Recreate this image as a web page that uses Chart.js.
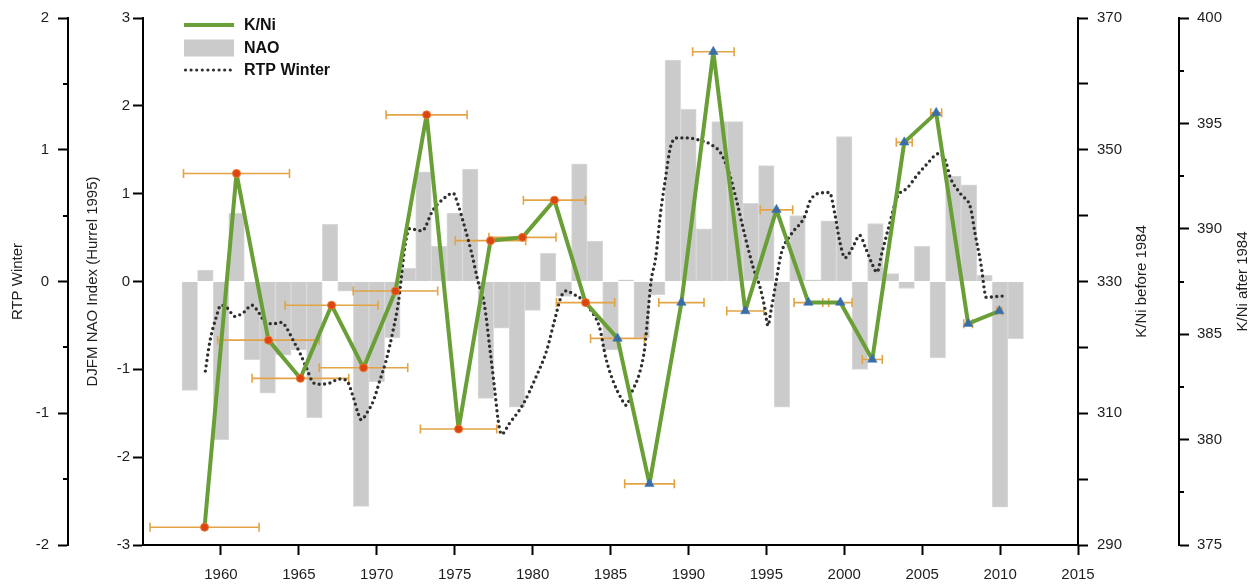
<!DOCTYPE html>
<html>
<head>
<meta charset="utf-8">
<script src="https://cdn.jsdelivr.net/npm/chart.js@4.4.1/dist/chart.umd.min.js"></script>
<style>
  html, body { margin: 0; padding: 0; background: #fff; }
  #wrap { width: 1259px; height: 585px; }
</style>
</head>
<body>
<div id="wrap"><canvas id="c" width="1259" height="585"></canvas></div>
<script>
// Winter NAO index (DJFM), one bar per year
const naoYears = [1958, 1959, 1960, 1961, 1962, 1963, 1964, 1965, 1966, 1967,
  1968, 1969, 1970, 1971, 1972, 1973, 1974, 1975, 1976, 1977,
  1978, 1979, 1980, 1981, 1982, 1983, 1984, 1985, 1986, 1987,
  1988, 1989, 1990, 1991, 1992, 1993, 1994, 1995, 1996, 1997,
  1998, 1999, 2000, 2001, 2002, 2003, 2004, 2005, 2006, 2007,
  2008, 2009, 2010, 2011];
const naoValues = [-1.24, 0.13, -1.80, 0.78, -0.89, -1.27, -0.84, -0.78, -1.55, 0.65,
  -0.11, -2.56, -1.14, -0.64, 0.15, 1.25, 0.40, 0.78, 1.28, -1.33,
  -0.53, -1.43, -0.33, 0.32, -0.17, 1.34, 0.46, -0.78, 0.02, -0.64,
  -0.15, 2.52, 1.96, 0.60, 1.82, 1.82, 0.89, 1.32, -1.43, 0.75,
  0.02, 0.69, 1.65, -1.00, 0.66, 0.09, -0.08, 0.40, -0.87, 1.20,
  1.10, 0.07, -2.57, -0.65];

// K/Ni ratio, samples dated before 1984 (left K/Ni scale) with age uncertainty (years)
const kniBeforeYears = [1958.95, 1961.0, 1963.05, 1965.1, 1967.1, 1969.15, 1971.2,
  1973.2, 1975.25, 1977.3, 1979.35, 1981.4, 1983.4];
const kniBeforeValues = [292.7, 346.4, 321.1, 315.3, 326.4, 316.9, 328.55,
  355.3, 307.6, 336.2, 336.7, 342.35, 326.8];
const kniBeforeErr = [3.5, 3.4, 3.26, 3.1, 2.98, 2.84, 2.71, 2.6, 2.45, 2.26, 2.15, 1.99, 1.87];

// K/Ni ratio, samples dated after 1984 (outer K/Ni scale)
const kniAfterYears = [1985.45, 1987.5, 1989.55, 1991.6, 1993.65, 1995.65, 1997.7,
  1999.75, 2001.8, 2003.85, 2005.9, 2007.95, 2009.95];
const kniAfterValues = [384.8, 377.9, 386.5, 398.4, 386.1, 390.9, 386.5,
  386.5, 383.8, 394.1, 395.5, 385.5, 386.1];
const kniAfterErr = [1.73, 1.59, 1.45, 1.33, 1.19, 1.04, 0.92, 0.75, 0.64, 0.51, 0.35, 0.28, 0.16];

// Smoothed winter RTP record
const rtpYears = [1959.0, 1959.3, 1959.7, 1960.0, 1960.4, 1960.9, 1961.45, 1962.0, 1962.45, 1962.95,
  1963.4, 1963.9, 1964.2, 1964.65, 1965.1, 1965.5, 1965.95, 1966.4, 1967.0, 1967.6,
  1968.05, 1968.5, 1968.8, 1969.0, 1969.35, 1969.8, 1970.2, 1970.6, 1971.05, 1971.4,
  1971.55, 1971.8, 1972.1, 1972.9, 1973.6, 1974.25, 1974.9, 1975.2, 1975.65, 1976.1,
  1976.5, 1976.9, 1977.25, 1977.55, 1977.8, 1978.0, 1978.5, 1979.4, 1980.2, 1980.9,
  1981.4, 1981.85, 1982.2, 1982.6, 1983.1, 1983.75, 1984.3, 1984.7, 1985.15, 1985.7,
  1986.0, 1986.4, 1986.85, 1987.2, 1987.4, 1987.6, 1987.9, 1988.2, 1988.5, 1988.85,
  1989.3, 1989.9, 1990.8, 1991.45, 1992.1, 1992.65, 1993.1, 1993.6, 1994.15, 1994.6,
  1994.9, 1995.1, 1995.3, 1995.6, 1995.95, 1996.6, 1997.45, 1997.8, 1998.4, 1999.05,
  1999.4, 1999.7, 2000.05, 2000.5, 2001.0, 2001.35, 2001.8, 2002.1, 2002.4, 2002.85,
  2003.4, 2004.05, 2004.7, 2005.3, 2006.05, 2006.5, 2006.8, 2007.5, 2008.1, 2008.4,
  2008.8, 2009.0, 2009.1, 2009.7, 2010.2];
const rtpValues = [-0.68, -0.45, -0.27, -0.18, -0.20, -0.265, -0.235, -0.18, -0.24, -0.32,
  -0.32, -0.31, -0.35, -0.45, -0.55, -0.66, -0.77, -0.78, -0.77, -0.74,
  -0.75, -0.88, -1.00, -1.05, -1.00, -0.90, -0.75, -0.60, -0.37, -0.15,
  0.0, 0.26, 0.40, 0.385, 0.54, 0.625, 0.67, 0.59, 0.41, 0.21,
  0.0, -0.17, -0.50, -0.80, -1.06, -1.16, -1.08, -0.93, -0.73, -0.525,
  -0.30, -0.11, -0.07, -0.095, -0.13, -0.22, -0.35, -0.58, -0.75, -0.89,
  -0.94, -0.83, -0.70, -0.50, -0.25, 0.0, 0.18, 0.51, 0.76, 1.02,
  1.09, 1.09, 1.07, 1.04, 0.97, 0.81, 0.61, 0.36, 0.11, -0.045,
  -0.20, -0.335, -0.22, -0.02, 0.21, 0.36, 0.49, 0.61, 0.67, 0.675,
  0.51, 0.31, 0.18, 0.25, 0.35, 0.26, 0.13, 0.07, 0.21, 0.41,
  0.64, 0.71, 0.81, 0.89, 0.97, 0.915, 0.79, 0.66, 0.56, 0.36,
  0.11, -0.07, -0.12, -0.115, -0.11];

// Unlabelled half-step ticks
const rtpMinorTicks = [1.5, 0.5, -0.5, -1.5];
const kniAfterMinorTicks = [397.5, 392.5, 387.5, 382.5, 377.5];

const FONT = "'Liberation Sans', Arial, Helvetica, sans-serif";
const TEXT = '#1e1e1e';
const GREEN = '#6a9f37';
const BAR = '#cbcbcb';
const DOT = '#2f2f2f';
const ERR = '#e2a444';

const pts = (xs, ys) => xs.map((x, i) => ({ x: x, y: ys[i] }));

// Horizontal age error bars with end caps
const errorBars = {
  id: 'errorBars',
  afterDatasetDraw(chart, args) {
    if (args.index !== 0) return;
    const ctx = chart.ctx, xs = chart.scales.x;
    const sets = [[2, kniBeforeYears, kniBeforeErr], [3, kniAfterYears, kniAfterErr]];
    ctx.save();
    ctx.strokeStyle = ERR;
    ctx.lineWidth = 1.6;
    sets.forEach(([di, yrs, errs]) => {
      const meta = chart.getDatasetMeta(di);
      meta.data.forEach((el, i) => {
        const x1 = xs.getPixelForValue(yrs[i] - errs[i]);
        const x2 = xs.getPixelForValue(yrs[i] + errs[i]);
        const y = el.y;
        ctx.beginPath();
        ctx.moveTo(x1, y); ctx.lineTo(x2, y);
        ctx.moveTo(x1, y - 4.5); ctx.lineTo(x1, y + 4.5);
        ctx.moveTo(x2, y - 4.5); ctx.lineTo(x2, y + 4.5);
        ctx.stroke();
      });
    });
    ctx.restore();
  }
};

// Joins the last pre-1984 sample to the first post-1984 sample
const kniBridge = {
  id: 'kniBridge',
  beforeDatasetDraw(chart, args) {
    if (args.index !== 2) return;
    const a = chart.getDatasetMeta(2).data;
    const b = chart.getDatasetMeta(3).data;
    if (!a.length || !b.length) return;
    const p = a[a.length - 1], q = b[0];
    const ctx = chart.ctx;
    ctx.save();
    ctx.strokeStyle = GREEN;
    ctx.lineWidth = 4;
    ctx.lineJoin = 'round';
    ctx.beginPath();
    ctx.moveTo(p.x, p.y); ctx.lineTo(q.x, q.y);
    ctx.stroke();
    ctx.restore();
  }
};

// Minor ticks, rotated axis titles and the in-plot legend
const decorations = {
  id: 'decorations',
  afterDraw(chart) {
    const ctx = chart.ctx, s = chart.scales, ca = chart.chartArea;
    ctx.save();
    ctx.strokeStyle = '#000';
    ctx.lineWidth = 2;
    ctx.beginPath();
    rtpMinorTicks.forEach(v => {
      const y = Math.round(s.yRTP.getPixelForValue(v));
      ctx.moveTo(s.yRTP.right - 5, y); ctx.lineTo(s.yRTP.right, y);
    });
    kniAfterMinorTicks.forEach(v => {
      const y = Math.round(s.yAfter.getPixelForValue(v));
      ctx.moveTo(s.yAfter.left, y); ctx.lineTo(s.yAfter.left + 5, y);
    });
    ctx.stroke();

    // axis titles, all reading bottom-to-top
    const midY = (ca.top + ca.bottom) / 2;
    const titles = [
      ['RTP Winter', s.yRTP.left + 18],
      ['DJFM NAO Index (Hurrel 1995)', s.yNAO.left + 24.5],
      ['K/Ni before 1984', s.yBefore.left + 63.5],
      ['K/Ni after 1984', s.yAfter.left + 64]
    ];
    ctx.fillStyle = TEXT;
    ctx.font = '15px ' + FONT;
    ctx.textAlign = 'center';
    ctx.textBaseline = 'middle';
    titles.forEach(([t, x]) => {
      ctx.save();
      ctx.translate(x, midY);
      ctx.rotate(-Math.PI / 2);
      ctx.fillText(t, 0, 0);
      ctx.restore();
    });

    // legend
    const lx = ca.left + 41, tx = ca.left + 101;
    const rows = [ca.top + 7, ca.top + 30, ca.top + 52];
    const ds = chart.data.datasets;
    ctx.strokeStyle = GREEN;
    ctx.lineWidth = 4;
    ctx.beginPath();
    ctx.moveTo(lx, rows[0]); ctx.lineTo(lx + 50, rows[0]);
    ctx.stroke();
    ctx.fillStyle = BAR;
    ctx.fillRect(lx, rows[1] - 8.5, 50, 17);
    ctx.strokeStyle = DOT;
    ctx.lineWidth = 3.2;
    ctx.lineCap = 'round';
    ctx.setLineDash([0, 5.6]);
    ctx.beginPath();
    ctx.moveTo(lx + 1.5, rows[2]); ctx.lineTo(lx + 49, rows[2]);
    ctx.stroke();
    ctx.setLineDash([]);
    ctx.fillStyle = '#111';
    ctx.font = 'bold 16px ' + FONT;
    ctx.textAlign = 'left';
    ctx.fillText(ds[2].label, tx, rows[0] + 1);
    ctx.fillText(ds[0].label, tx, rows[1] + 1);
    ctx.fillText(ds[1].label, tx, rows[2] + 1);
    ctx.restore();
  }
};

const tickFont = { family: FONT, size: 15 };
const axisBorder = { display: true, color: '#000', width: 2 };
const axisGrid = { drawOnChartArea: false, drawTicks: true, tickLength: 10, tickWidth: 2, tickColor: '#000' };

new Chart(document.getElementById('c'), {
  type: 'line',
  data: {
    datasets: [
      {
        type: 'bar', label: 'NAO', data: pts(naoYears, naoValues),
        xAxisID: 'x', yAxisID: 'yNAO',
        backgroundColor: BAR, borderColor: '#d9d9d9', borderWidth: 1,
        barPercentage: 1, categoryPercentage: 1, grouped: false, order: 10
      },
      {
        type: 'line', label: 'RTP Winter', data: pts(rtpYears, rtpValues),
        xAxisID: 'x', yAxisID: 'yRTP',
        borderColor: DOT, borderWidth: 3.4, borderDash: [0, 5.4], borderCapStyle: 'round',
        pointRadius: 0, fill: false, cubicInterpolationMode: 'monotone', order: 8
      },
      {
        type: 'line', label: 'K/Ni', data: pts(kniBeforeYears, kniBeforeValues),
        xAxisID: 'x', yAxisID: 'yBefore',
        borderColor: GREEN, borderWidth: 4, tension: 0, fill: false, borderJoinStyle: 'round',
        pointStyle: 'circle', pointRadius: 4, pointBackgroundColor: '#dc4512',
        pointBorderColor: '#e9792e', pointBorderWidth: 1, order: 3
      },
      {
        type: 'line', label: 'K/Ni', data: pts(kniAfterYears, kniAfterValues),
        xAxisID: 'x', yAxisID: 'yAfter',
        borderColor: GREEN, borderWidth: 4, tension: 0, fill: false, borderJoinStyle: 'round',
        pointStyle: 'triangle', pointRadius: 5.5, pointBackgroundColor: '#3a6ea9',
        pointBorderColor: '#3a6ea9', pointBorderWidth: 0.5, order: 2
      }
    ]
  },
  options: {
    responsive: false,
    animation: false,
    devicePixelRatio: 1,
    layout: { padding: { top: 17, left: 0, right: 0, bottom: 0 } },
    plugins: { legend: { display: false }, tooltip: { enabled: false } },
    scales: {
      x: {
        type: 'linear', position: 'bottom', min: 1955, max: 2015, offset: false,
        border: axisBorder,
        grid: Object.assign({}, axisGrid, {
          offset: false,
          tickColor: c => (c.tick && c.tick.value === 1955) ? 'rgba(0,0,0,0)' : '#000'
        }),
        ticks: {
          stepSize: 5, padding: 11, color: TEXT, font: tickFont, autoSkip: false, maxRotation: 0,
          callback: v => (v === 1955 ? '' : String(v))
        },
        afterFit: sc => { sc.height = 40; }
      },
      yNAO: {
        type: 'linear', position: 'left', weight: 0, min: -3, max: 3,
        border: axisBorder, grid: axisGrid,
        ticks: { stepSize: 1, padding: 3, color: TEXT, font: tickFont, callback: v => String(v) },
        afterFit: sc => { sc.width = 75; }
      },
      yRTP: {
        type: 'linear', position: 'left', weight: 1, min: -2, max: 2,
        border: axisBorder, grid: axisGrid,
        ticks: { stepSize: 1, padding: 9, color: TEXT, font: tickFont, callback: v => String(v) },
        afterFit: sc => { sc.width = 68; }
      },
      yBefore: {
        type: 'linear', position: 'right', weight: 0, min: 290, max: 370,
        border: axisBorder, grid: axisGrid,
        ticks: {
          stepSize: 10, padding: 9, color: TEXT, font: tickFont,
          callback: v => ((v - 290) % 20 === 0 ? String(v) : '')
        },
        afterFit: sc => { sc.width = 101; }
      },
      yAfter: {
        type: 'linear', position: 'right', weight: 1, min: 375, max: 400,
        border: axisBorder, grid: axisGrid,
        ticks: { stepSize: 5, padding: 8, color: TEXT, font: tickFont, callback: v => String(v) },
        afterFit: sc => { sc.width = 80; }
      }
    }
  },
  plugins: [errorBars, kniBridge, decorations]
});
</script>
</body>
</html>
